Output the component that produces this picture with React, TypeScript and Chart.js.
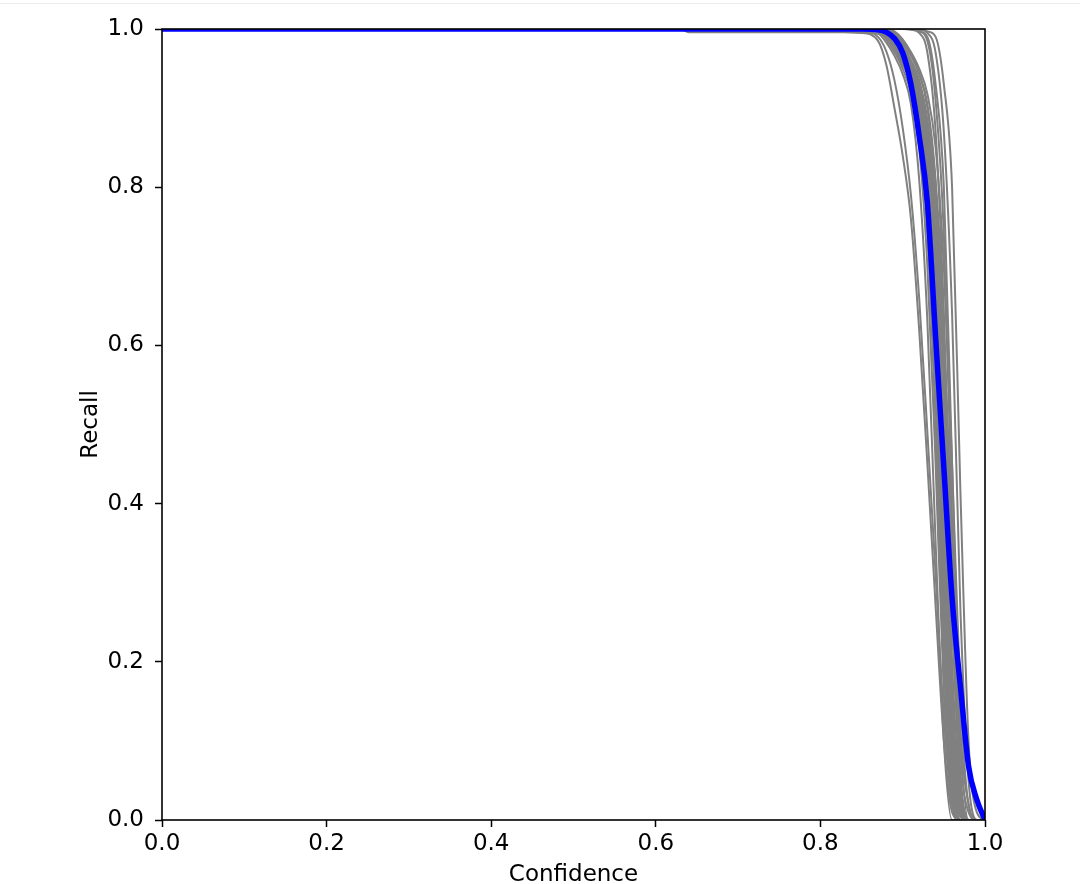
import React, { useEffect, useRef } from "react";
import { Chart, registerables } from "chart.js";

Chart.register(...registerables);

// Confidence grid (x values shared by every curve)
const CONFIDENCE = [0, 0.63, 0.64, 0.85, 0.87, 0.88, 0.89, 0.9, 0.91, 0.92, 0.93, 0.94, 0.95, 0.96, 0.97, 0.98, 0.99, 1.0];
const AXIS_TICKS = [0, 0.2, 0.4, 0.6, 0.8, 1.0];

// Mean recall over all classes (blue)
const ALL_CLASSES = [1, 1, 1, 1, 0.999, 0.996, 0.988, 0.97, 0.93, 0.865, 0.78, 0.61, 0.445, 0.28, 0.17, 0.068, 0.026, 0];

// Per-class recall curves (grey)
const class01 = [1, 1, 1, 0.995, 0.985, 0.955, 0.9, 0.84, 0.76, 0.62, 0.45, 0.27, 0.1, 0.01, 0, 0, 0, 0];
const class02 = [1, 1, 1, 0.998, 0.99, 0.972, 0.935, 0.875, 0.79, 0.66, 0.49, 0.31, 0.13, 0.02, 0, 0, 0, 0];
const class03 = [1, 1, 1, 1, 0.995, 0.983, 0.966, 0.943, 0.905, 0.81, 0.63, 0.35, 0.1, 0, 0, 0, 0, 0];
const class04 = [1, 1, 1, 1, 0.998, 0.99, 0.975, 0.955, 0.93, 0.87, 0.74, 0.5, 0.2, 0.03, 0, 0, 0, 0];
const class05 = [1, 1, 1, 1, 0.997, 0.987, 0.971, 0.95, 0.918, 0.85, 0.7, 0.45, 0.16, 0.02, 0, 0, 0, 0];
const class06 = [1, 1, 1, 1, 0.998, 0.993, 0.98, 0.96, 0.935, 0.88, 0.77, 0.55, 0.26, 0.05, 0, 0, 0, 0];
const class07 = [1, 1, 1, 1, 0.999, 0.995, 0.984, 0.968, 0.945, 0.9, 0.8, 0.61, 0.32, 0.08, 0, 0, 0, 0];
const class08 = [1, 1, 1, 1, 0.999, 0.995, 0.985, 0.965, 0.946, 0.91, 0.82, 0.65, 0.38, 0.12, 0.005, 0, 0, 0];
const class09 = [1, 1, 1, 1, 1, 0.997, 0.987, 0.971, 0.95, 0.918, 0.85, 0.7, 0.45, 0.16, 0.02, 0, 0, 0];
const class10 = [1, 1, 1, 1, 1, 0.998, 0.99, 0.975, 0.955, 0.93, 0.87, 0.74, 0.5, 0.2, 0.03, 0, 0, 0];
const class11 = [1, 1, 1, 1, 1, 0.998, 0.993, 0.98, 0.96, 0.935, 0.88, 0.77, 0.55, 0.26, 0.05, 0, 0, 0];
const class12 = [1, 1, 1, 1, 1, 1, 0.995, 0.983, 0.966, 0.943, 0.905, 0.81, 0.63, 0.35, 0.1, 0, 0, 0];
const class13 = [1, 1, 1, 1, 1, 1, 0.997, 0.987, 0.971, 0.95, 0.918, 0.85, 0.7, 0.45, 0.16, 0.02, 0, 0];
const class14 = [1, 1, 1, 1, 0.998, 0.992, 0.978, 0.958, 0.93, 0.875, 0.76, 0.53, 0.22, 0.03, 0, 0, 0, 0];
const class15 = [1, 1, 1, 1, 0.999, 0.996, 0.986, 0.97, 0.948, 0.915, 0.83, 0.66, 0.4, 0.13, 0.01, 0, 0, 0];
const class16 = [1, 1, 1, 1, 0.998, 0.991, 0.977, 0.957, 0.932, 0.875, 0.755, 0.52, 0.23, 0.04, 0, 0, 0, 0];
const class17 = [1, 1, 0.996, 0.996, 0.994, 0.99, 0.98, 0.965, 0.94, 0.89, 0.78, 0.56, 0.27, 0.06, 0, 0, 0, 0];
const class18 = [1, 1, 1, 1, 1, 0.997, 0.988, 0.973, 0.952, 0.925, 0.86, 0.71, 0.46, 0.15, 0.01, 0, 0, 0];
const class19 = [1, 1, 1, 1, 1, 0.999, 0.995, 0.985, 0.968, 0.945, 0.9, 0.8, 0.6, 0.3, 0.06, 0, 0, 0];
const class20 = [1, 1, 1, 1, 0.999, 0.994, 0.982, 0.965, 0.94, 0.89, 0.79, 0.58, 0.28, 0.06, 0, 0, 0, 0];
const class21 = [1, 1, 1, 1, 1, 1, 1, 1, 0.999, 0.995, 0.97, 0.87, 0.64, 0.27, 0.05, 0, 0, 0];
const class22 = [1, 1, 1, 1, 1, 1, 1, 1, 1, 0.997, 0.99, 0.93, 0.8, 0.45, 0.12, 0.02, 0, 0];
const class23 = [1, 1, 1, 1, 1, 1, 1, 1, 1, 0.999, 0.995, 0.97, 0.87, 0.64, 0.27, 0.05, 0, 0];
const class24 = [1, 1, 1, 1, 1, 1, 1, 1, 1, 1, 0.997, 0.99, 0.93, 0.8, 0.42, 0.1, 0.01, 0];
const class25 = [1, 1, 1, 1, 1, 1, 1, 1, 1, 0.997, 0.985, 0.91, 0.74, 0.38, 0.09, 0.01, 0, 0];
const class26 = [1, 1, 1, 1, 0.998, 0.993, 0.981, 0.962, 0.937, 0.885, 0.77, 0.54, 0.24, 0.04, 0, 0, 0, 0];
const class27 = [1, 1, 1, 1, 1, 0.996, 0.986, 0.97, 0.948, 0.92, 0.855, 0.72, 0.47, 0.17, 0.02, 0, 0, 0];
const class28 = [1, 1, 1, 1, 0.999, 0.995, 0.984, 0.967, 0.944, 0.905, 0.81, 0.62, 0.33, 0.09, 0.004, 0, 0, 0];
const class29 = [1, 1, 1, 1, 0.998, 0.992, 0.979, 0.96, 0.936, 0.89, 0.79, 0.6, 0.3, 0.07, 0, 0, 0, 0];
const class30 = [1, 1, 1, 1, 1, 0.998, 0.992, 0.979, 0.96, 0.935, 0.885, 0.78, 0.57, 0.27, 0.05, 0, 0, 0];

const CLASS_CURVES = [
  class01, class02, class03, class04, class05, class06, class07, class08, class09, class10,
  class11, class12, class13, class14, class15, class16, class17, class18, class19, class20,
  class21, class22, class23, class24, class25, class26, class27, class28, class29, class30,
];

const FONT = "'DejaVu Sans', sans-serif";

export default function App() {
  const ref = useRef<HTMLCanvasElement>(null);

  useEffect(() => {
    const canvas = ref.current;
    if (!canvas) return;
    const toPoints = (ys: number[]) => CONFIDENCE.map((x, i) => ({ x, y: ys[i] }));

    const datasets: any[] = [
      {
        label: "all classes",
        data: toPoints(ALL_CLASSES),
        borderColor: "rgb(0,0,255)",
        borderWidth: 5.5,
        clip: 0,
      },
      ...CLASS_CURVES.map((ys, i) => ({
        label: `class ${i + 1}`,
        data: toPoints(ys),
        borderColor: "rgb(128,128,128)",
        borderWidth: 2,
        clip: 0,
      })),
    ];

    const spines = {
      id: "spines",
      afterDatasetsDraw(chart: any) {
        const { ctx, chartArea: a } = chart;
        ctx.save();
        ctx.strokeStyle = "#000";
        ctx.lineWidth = 1.6;
        ctx.strokeRect(a.left, a.top, a.right - a.left, a.bottom - a.top);
        ctx.restore();
      },
    };

    const tickFont = { family: FONT, size: 23 };

    const chart = new Chart(canvas, {
      type: "line",
      data: { datasets },
      options: {
        responsive: false,
        devicePixelRatio: 1,
        animation: false,
        layout: { padding: { left: 0, top: 29, right: 95, bottom: 0 } },
        elements: {
          point: { radius: 0 },
          line: { cubicInterpolationMode: "monotone", fill: false },
        },
        plugins: { legend: { display: false }, tooltip: { enabled: false } },
        scales: {
          x: {
            type: "linear",
            min: 0,
            max: 1,
            afterFit: (s: any) => {
              s.height = 64;
            },
            afterBuildTicks: (s: any) => {
              s.ticks = AXIS_TICKS.map((v) => ({ value: v }));
            },
            ticks: {
              stepSize: 0.2,
              autoSkip: false,
              maxRotation: 0,
              color: "#000",
              font: tickFont,
              padding: 3,
              callback: (v: any) => Number(v).toFixed(1),
            },
            grid: {
              drawOnChartArea: false,
              drawTicks: true,
              tickLength: 7,
              tickColor: "#000",
              tickWidth: 1.5,
            },
            border: { display: false },
            title: {
              display: true,
              text: "Confidence",
              color: "#000",
              font: { family: FONT, size: 23 },
              padding: { top: 0, bottom: -4.8 },
            },
          },
          y: {
            type: "linear",
            min: 0,
            max: 1,
            afterFit: (s: any) => {
              s.width = 162;
            },
            afterBuildTicks: (s: any) => {
              s.ticks = AXIS_TICKS.map((v) => ({ value: v }));
            },
            ticks: {
              stepSize: 0.2,
              autoSkip: false,
              color: "#000",
              font: tickFont,
              padding: 11,
              callback: (v: any) => Number(v).toFixed(1),
            },
            grid: {
              drawOnChartArea: false,
              drawTicks: true,
              tickLength: 7,
              tickColor: "#000",
              tickWidth: 1.5,
            },
            border: { display: false },
            title: {
              display: true,
              text: "Recall",
              color: "#000",
              font: { family: FONT, size: 23 },
              padding: { top: 77, bottom: 0 },
            },
          },
        },
      },
      plugins: [spines],
    } as any);

    return () => chart.destroy();
  }, []);

  return (
    <div style={{ position: "fixed", left: 0, top: 0, width: 1080, height: 884, background: "#fff" }}>
      <div style={{ position: "absolute", left: 0, top: 3, width: 1080, height: 1, background: "#ececec" }} />
      <canvas ref={ref} width={1080} height={884} style={{ display: "block" }} />
    </div>
  );
}
